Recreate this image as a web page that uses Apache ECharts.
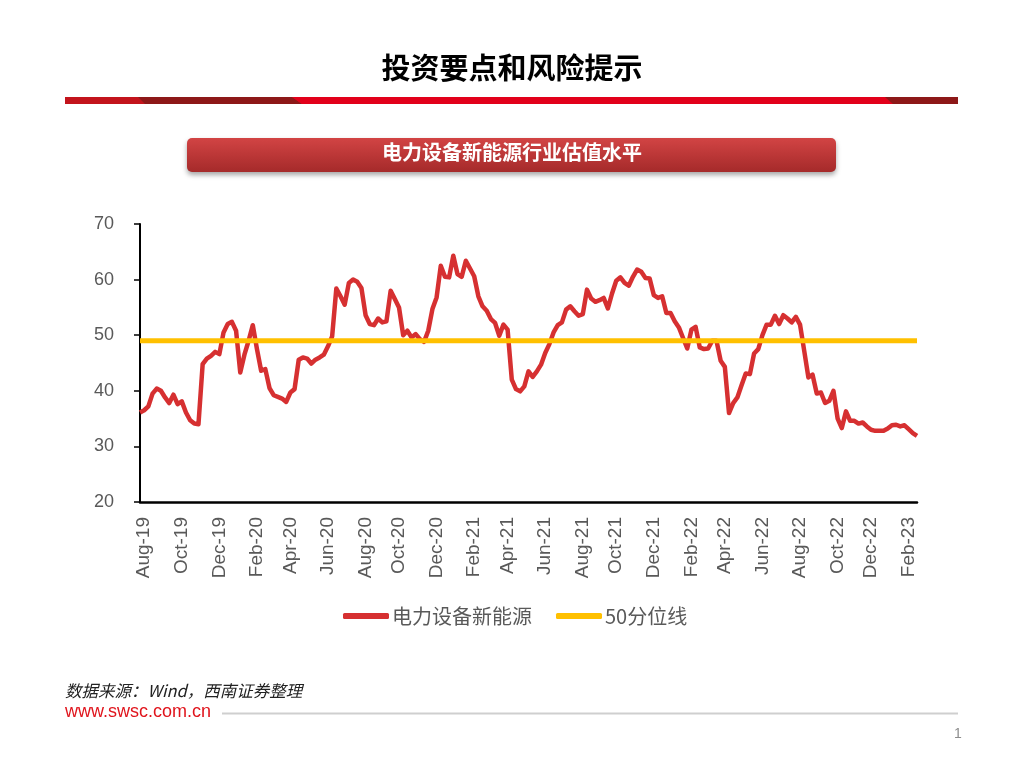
<!DOCTYPE html>
<html>
<head>
<meta charset="utf-8">
<script src="https://cdn.jsdelivr.net/npm/echarts/dist/echarts.min.js"></script>
<style>
html,body{margin:0;padding:0;background:#ffffff;}
#c{width:1024px;height:768px;}
</style>
</head>
<body>
<div id="c"></div>
<script>
// ---- data ----
const seriesName = '电力设备新能源';
const pctName = '50分位线';
const firstWeek = [2019, 6, 26];   // first weekly observation (year, monthIndex, day)
const valuation = [
36.1,36.5,37.2,39.5,40.4,40.0,38.8,37.8,39.3,37.6,
38.1,36.1,34.7,34.1,34.0,44.8,45.8,46.3,47.0,46.6,
50.5,52.0,52.4,50.8,43.3,46.5,49.0,51.8,47.5,43.6,
43.9,40.5,39.2,38.9,38.6,38.0,39.7,40.3,45.6,46.0,
45.8,44.9,45.6,46.0,46.5,48.0,49.8,58.4,57.0,55.5,
59.4,60.0,59.6,58.5,53.6,52.0,51.8,53.0,52.3,52.5,
58.0,56.5,55.0,50.0,50.8,49.6,50.2,49.3,48.8,50.8,
54.7,56.8,62.5,60.5,60.4,64.3,61.0,60.5,63.4,62.0,
60.6,57.0,55.2,54.4,52.9,52.2,49.9,51.9,51.0,42.0,
40.3,39.9,40.8,43.5,42.5,43.5,44.7,46.8,48.4,50.5,
51.8,52.3,54.6,55.2,54.3,53.5,53.8,58.2,56.6,56.0,
56.3,56.7,54.8,57.5,59.8,60.4,59.4,58.9,60.5,61.8,
61.4,60.3,60.2,57.2,56.7,57.0,54.0,54.0,52.5,51.4,
49.5,47.6,51.0,51.5,47.8,47.5,47.6,49.0,49.0,45.4,
44.3,36.0,37.8,38.8,41.0,43.1,43.0,46.7,47.5,50.0,
51.9,51.9,53.5,52.0,53.6,53.0,52.3,53.3,51.9,47.2,
42.4,42.9,39.5,39.7,37.8,38.2,40.0,35.0,33.3,36.3,
34.6,34.6,34.1,34.3,33.6,33.0,32.8,32.8,32.8,33.2,
33.8,33.9,33.6,33.8,33.1,32.4,31.9
];
const pct50 = 49;
const yMin = 20, yMax = 70, yStep = 10;
const monthNames = ['Jan','Feb','Mar','Apr','May','Jun','Jul','Aug','Sep','Oct','Nov','Dec'];
const labelMonths = [1,3,5,7,9,11]; // Feb, Apr, Jun, Aug, Oct, Dec

// weekly category dates
const categories = [];
for (let i = 0; i < valuation.length; i++) {
  const d = new Date(Date.UTC(firstWeek[0], firstWeek[1], firstWeek[2] + 7 * i));
  categories.push(d.toISOString().slice(0, 10));
}
function isLabelWeek(s) {
  const m = parseInt(s.slice(5, 7), 10) - 1;
  const day = parseInt(s.slice(8, 10), 10);
  return day <= 7 && labelMonths.indexOf(m) >= 0;
}
function fmtLabel(s) {
  const m = parseInt(s.slice(5, 7), 10) - 1;
  return monthNames[m] + '-' + s.slice(2, 4);
}

const LATIN = '"Liberation Sans", Arial, "Noto Sans CJK SC", sans-serif';
const CJK = '"Noto Sans CJK SC", "Liberation Sans", sans-serif';

const chart = echarts.init(document.getElementById('c'), null, {renderer: 'canvas'});
const option = {
  backgroundColor: '#ffffff',
  animation: false,
  grid: {left: 140, top: 224, right: 107, bottom: 266, containLabel: false, outerBoundsMode: 'none'},
  legend: {
    top: 601, left: 338,
    itemWidth: 46, itemHeight: 6, itemGap: 24,
    icon: 'roundRect',
    textStyle: {fontSize: 20, color: '#595959', fontFamily: CJK, padding: [0, 0, 0, -2]},
    data: [seriesName, pctName]
  },
  xAxis: {
    type: 'category',
    data: categories,
    boundaryGap: false,
    axisLine: {show: true, lineStyle: {color: '#000000', width: 2.5}},
    axisTick: {show: false},
    splitLine: {show: false},
    axisLabel: {
      rotate: 90,
      margin: 15,
      interval: function (idx, val) { return isLabelWeek(val); },
      formatter: fmtLabel,
      color: '#595959',
      fontSize: 19,
      fontFamily: LATIN
    }
  },
  yAxis: {
    type: 'value',
    min: yMin, max: yMax, interval: yStep,
    axisLine: {show: true, lineStyle: {color: '#000000', width: 2}},
    axisTick: {show: true, length: 6, lineStyle: {color: '#000000', width: 1.5}},
    splitLine: {show: false},
    axisLabel: {margin: 26, color: '#595959', fontSize: 18, fontFamily: LATIN}
  },
  series: [
    {
      name: seriesName,
      type: 'line',
      data: valuation,
      showSymbol: false,
      symbol: 'none',
      z: 3,
      itemStyle: {color: '#d63031'},
      lineStyle: {color: '#d63031', width: 4.5, join: 'round'}
    },
    {
      name: pctName,
      type: 'line',
      data: [[categories[0], pct50], [categories[categories.length - 1], pct50]],
      showSymbol: false,
      symbol: 'none',
      z: 4,
      itemStyle: {color: '#ffc000'},
      lineStyle: {color: '#ffc000', width: 5}
    }
  ],
  graphic: [
    // page title
    {type: 'text', left: 'center', top: 53, z: 10,
      style: {text: '投资要点和风险提示', fontSize: 29, fontWeight: 'bold', fill: '#000000', fontFamily: CJK}},
    // red header bar
    {type: 'polygon', z: 5, shape: {points: [[65,97],[958,97],[958,104],[65,104]]}, style: {fill: '#c3141c'}},
    {type: 'polygon', z: 6, shape: {points: [[138,97],[292,97],[302,104],[145,104]]}, style: {fill: '#8d1818'}},
    {type: 'polygon', z: 6, shape: {points: [[292,97],[885,97],[893,104],[302,104]]}, style: {fill: '#e2001a'}},
    {type: 'polygon', z: 6, shape: {points: [[885,97],[958,97],[958,104],[893,104]]}, style: {fill: '#8d1818'}},
    // subtitle box
    {type: 'rect', z: 7, shape: {x: 187, y: 138, width: 649, height: 34, r: 5},
      style: {
        fill: new echarts.graphic.LinearGradient(0, 0, 0, 1, [
          {offset: 0, color: '#d24444'}, {offset: 1, color: '#a52a2a'}
        ]),
        shadowBlur: 5, shadowOffsetY: 3, shadowColor: 'rgba(0,0,0,0.35)'
      }},
    {type: 'text', z: 8, left: 'center', top: 142,
      style: {text: '电力设备新能源行业估值水平', fontSize: 20, fontWeight: 'bold', fill: '#ffffff', fontFamily: CJK}},
    // footer
    {type: 'text', z: 8, left: 65, top: 682,
      style: {text: '数据来源：Wind，西南证券整理', fontSize: 16.5, fontStyle: 'italic', fill: '#222222', fontFamily: CJK}},
    {type: 'text', z: 8, left: 65, top: 703,
      style: {text: 'www.swsc.com.cn', fontSize: 18, fill: '#e0141c', fontFamily: LATIN}},
    {type: 'line', z: 8, shape: {x1: 222, y1: 713.5, x2: 958, y2: 713.5}, style: {stroke: '#cfcfcf', lineWidth: 2}},
    {type: 'text', z: 8, left: 954, top: 727,
      style: {text: '1', fontSize: 14, fill: '#8c8c8c', fontFamily: LATIN}}
  ]
};
chart.setOption(option);
</script>
</body>
</html>
